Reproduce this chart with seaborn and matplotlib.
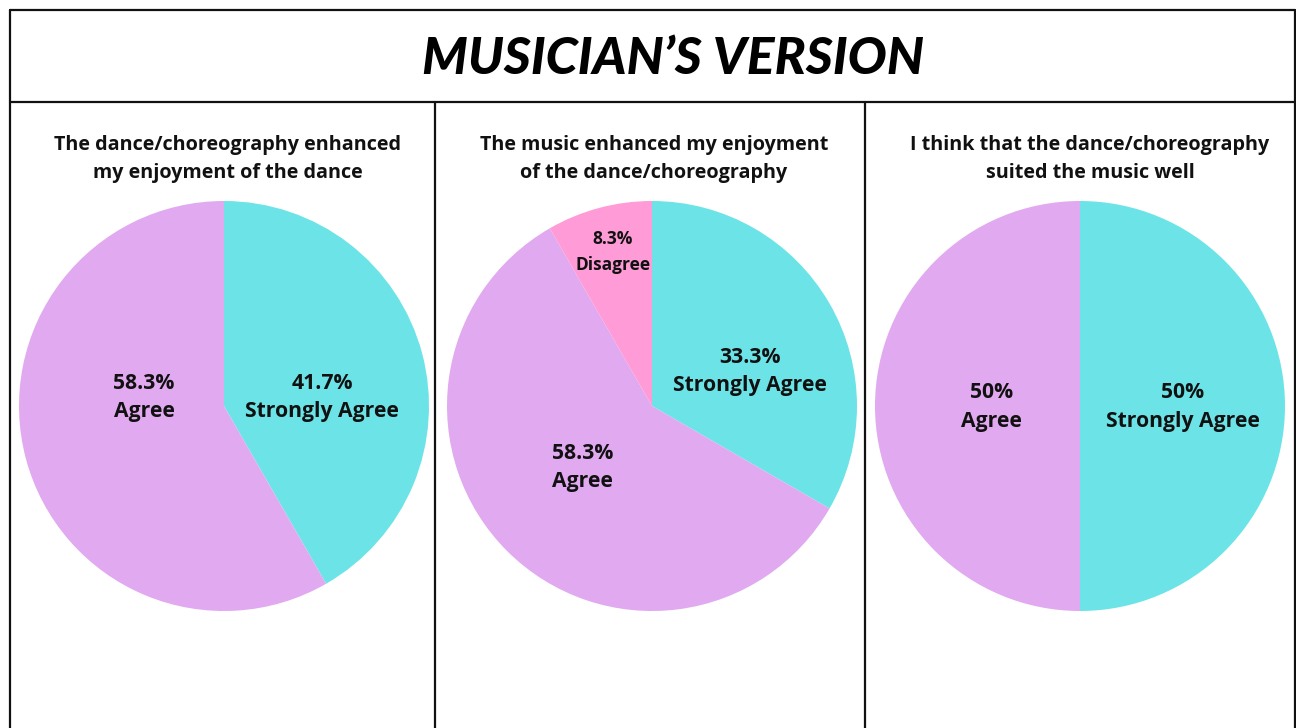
import matplotlib
matplotlib.use("Agg")
import matplotlib.pyplot as plt
from matplotlib.lines import Line2D
import seaborn as sns

sns.set_theme(style="white")
plt.rcParams['font.family'] = ['Open Sans', 'DejaVu Sans']

# ---- data ----
title = "MUSICIAN\u2019S VERSION"
questions = [
    "The dance/choreography enhanced\nmy enjoyment of the dance",
    "The music enhanced my enjoyment\nof the dance/choreography",
    "I think that the dance/choreography\nsuited the music well",
]
chart1_labels = ["Strongly Agree", "Agree"]
chart1_values = [41.7, 58.3]
chart2_labels = ["Strongly Agree", "Agree", "Disagree"]
chart2_values = [33.3, 58.3, 8.3]
chart3_labels = ["Strongly Agree", "Agree"]
chart3_values = [50, 50]
pct_text1 = ["41.7%", "58.3%"]
pct_text2 = ["33.3%", "58.3%", "8.3%"]
pct_text3 = ["50%", "50%"]

colors = {"Strongly Agree": "#6ce4e7", "Agree": "#e1a9ef", "Disagree": "#ff9bd6"}

# label placement (in pie-radius units), layout only
label_pos = [
    [(0.48, 0.04), (-0.39, 0.04)],
    [(0.48, 0.17), (-0.34, -0.30), (-0.19, 0.75)],
    [(0.50, -0.005), (-0.43, -0.005)],
]

W, H = 1296, 728
fig = plt.figure(figsize=(W / 100, H / 100), dpi=100)
fig.patch.set_facecolor("white")

def fx(px):
    return px / W

def fy(py):
    return 1 - py / H

lw = 1.6
def hline(y, x0, x1):
    fig.add_artist(Line2D([fx(x0), fx(x1)], [fy(y), fy(y)], color="#111111", lw=lw, transform=fig.transFigure))

def vline(x, y0, y1):
    fig.add_artist(Line2D([fx(x), fx(x)], [fy(y0), fy(y1)], color="#111111", lw=lw, transform=fig.transFigure))

hline(10, 10, 1295)
hline(102, 10, 1295)
vline(10, 10, 728)
vline(1295, 10, 728)
vline(435, 102, 728)
vline(865, 102, 728)

fig.text(fx(673), fy(60), title, ha="center", va="center", fontsize=37.3,
         fontweight="black", fontstyle="italic", color="black",
         family=["Lato", "DejaVu Sans"])

centers = [(224, 406), (652, 406), (1080, 406)]
sub_x = [228, 654, 1090]
radius = 205
datasets = [
    (chart1_labels, chart1_values, pct_text1),
    (chart2_labels, chart2_values, pct_text2),
    (chart3_labels, chart3_values, pct_text3),
]

for i, ((labs, vals, pcts), (cx, cy)) in enumerate(zip(datasets, centers)):
    fig.text(fx(sub_x[i]), fy(159), questions[i], ha="center", va="center",
             fontsize=14.2, fontweight="bold", color="#111111", linespacing=1.55)
    ax = fig.add_axes([fx(cx - radius), fy(cy + radius), 2 * radius / W, 2 * radius / H])
    wedges, texts = ax.pie(vals, labels=[f"{p}\n{l}" for p, l in zip(pcts, labs)],
                           colors=[colors[l] for l in labs], startangle=90,
                           counterclock=False, labeldistance=0.5,
                           wedgeprops=dict(linewidth=0))
    for lab, t, pos in zip(labs, texts, label_pos[i]):
        t.set_position(pos)
        t.set_ha("center")
        t.set_va("center")
        t.set_fontweight("bold")
        t.set_fontsize(12.5 if lab == "Disagree" else 15.2)
        t.set_linespacing(1.45 if lab != "Disagree" else 1.55)
        t.set_color("#111111")
    ax.set_xlim(-1, 1)
    ax.set_ylim(-1, 1)
    ax.set_aspect("equal")
    ax.axis("off")

fig.savefig("out.png", dpi=100, facecolor="white")
